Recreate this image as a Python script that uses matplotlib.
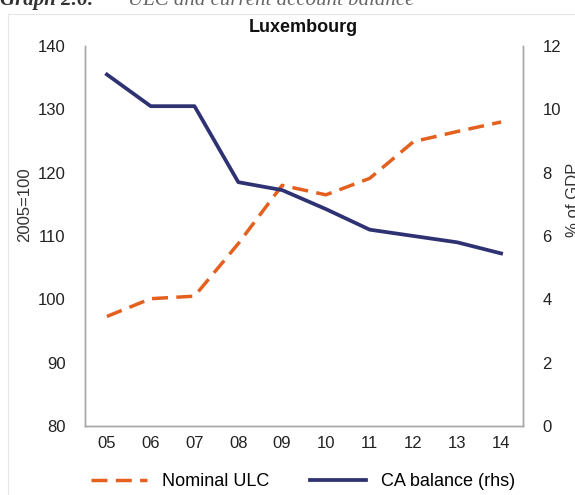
import matplotlib.pyplot as plt
from matplotlib.patches import Rectangle

plt.rc('font', family='Liberation Sans')

# data
years = ['05', '06', '07', '08', '09', '10', '11', '12', '13', '14']
ulc = [97.3, 100.1, 100.5, 108.8, 118.0, 116.5, 119.1, 124.9, 126.5, 128.0]
ca = [11.1, 10.1, 10.1, 7.7, 7.45, 6.85, 6.2, 6.0, 5.8, 5.45]

orange = '#E4601F'
navy = '#2F3272'
grey = '#A6A6A6'

fig = plt.figure(figsize=(5.75, 4.95), dpi=100)

# faint frame of the original figure box
fig.patches.append(Rectangle((8 / 575, -0.01), 1.0, 1 - 14 / 495 + 0.01,
                             transform=fig.transFigure, fill=False,
                             edgecolor='#E6E6E6', linewidth=0.8))

# header of the source page, cut off at the top
fig.text(0.0, 1 - 5 / 495, 'Graph 2.6:', family='Liberation Serif',
         style='italic', weight='bold', fontsize=15, color='#333333')
fig.text(128 / 575, 1 - 5 / 495, 'ULC and current account balance',
         family='Liberation Serif', style='italic', fontsize=15, color='#666666')

ax = fig.add_axes([85 / 575, 1 - 426 / 495, 438 / 575, 380 / 495])
ax2 = ax.twinx()

x = range(len(years))
l1, = ax.plot(x, ulc, color=orange, lw=2.5, dashes=(4.6, 2.4), label='Nominal ULC')
l2, = ax2.plot(x, ca, color=navy, lw=2.7, label='CA balance (rhs)')

ax.set_xlim(-0.5, len(years) - 0.5)
ax.set_ylim(80, 140)
ax.set_yticks(range(80, 141, 10))
ax2.set_ylim(0, 12)
ax2.set_yticks(range(0, 13, 2))
ax.set_xticks(list(x))
ax.set_xticklabels(years)

for a in (ax, ax2):
    a.tick_params(length=0, labelsize=12, colors='#222222')
    a.spines['top'].set_visible(False)
    for s in ('left', 'right', 'bottom'):
        a.spines[s].set_color(grey)
        a.spines[s].set_linewidth(1.0)
ax.tick_params(axis='y', pad=14)
ax2.tick_params(axis='y', pad=14)
ax.tick_params(axis='x', pad=7)

fig.text(25 / 575, 1 - 205 / 495, '2005=100', rotation=90, fontsize=12,
         ha='center', va='center', color='#333333')
fig.text(566 / 575, 1 - 200 / 495, '% of GDP', rotation=90, fontsize=12,
         ha='left', va='center', color='#333333')

fig.text(303 / 575, 1 - 28 / 495, 'Luxembourg', fontsize=13, weight='bold',
         ha='center', va='center', color='#111111')

fig.legend([l1, l2], ['Nominal ULC', 'CA balance (rhs)'], loc='center',
           bbox_to_anchor=(303 / 575, 1 - 482 / 495), ncol=2, frameon=False,
           fontsize=13, handlelength=3.1, columnspacing=2.3, handletextpad=0.8)

fig.savefig('out.png', dpi=100)
